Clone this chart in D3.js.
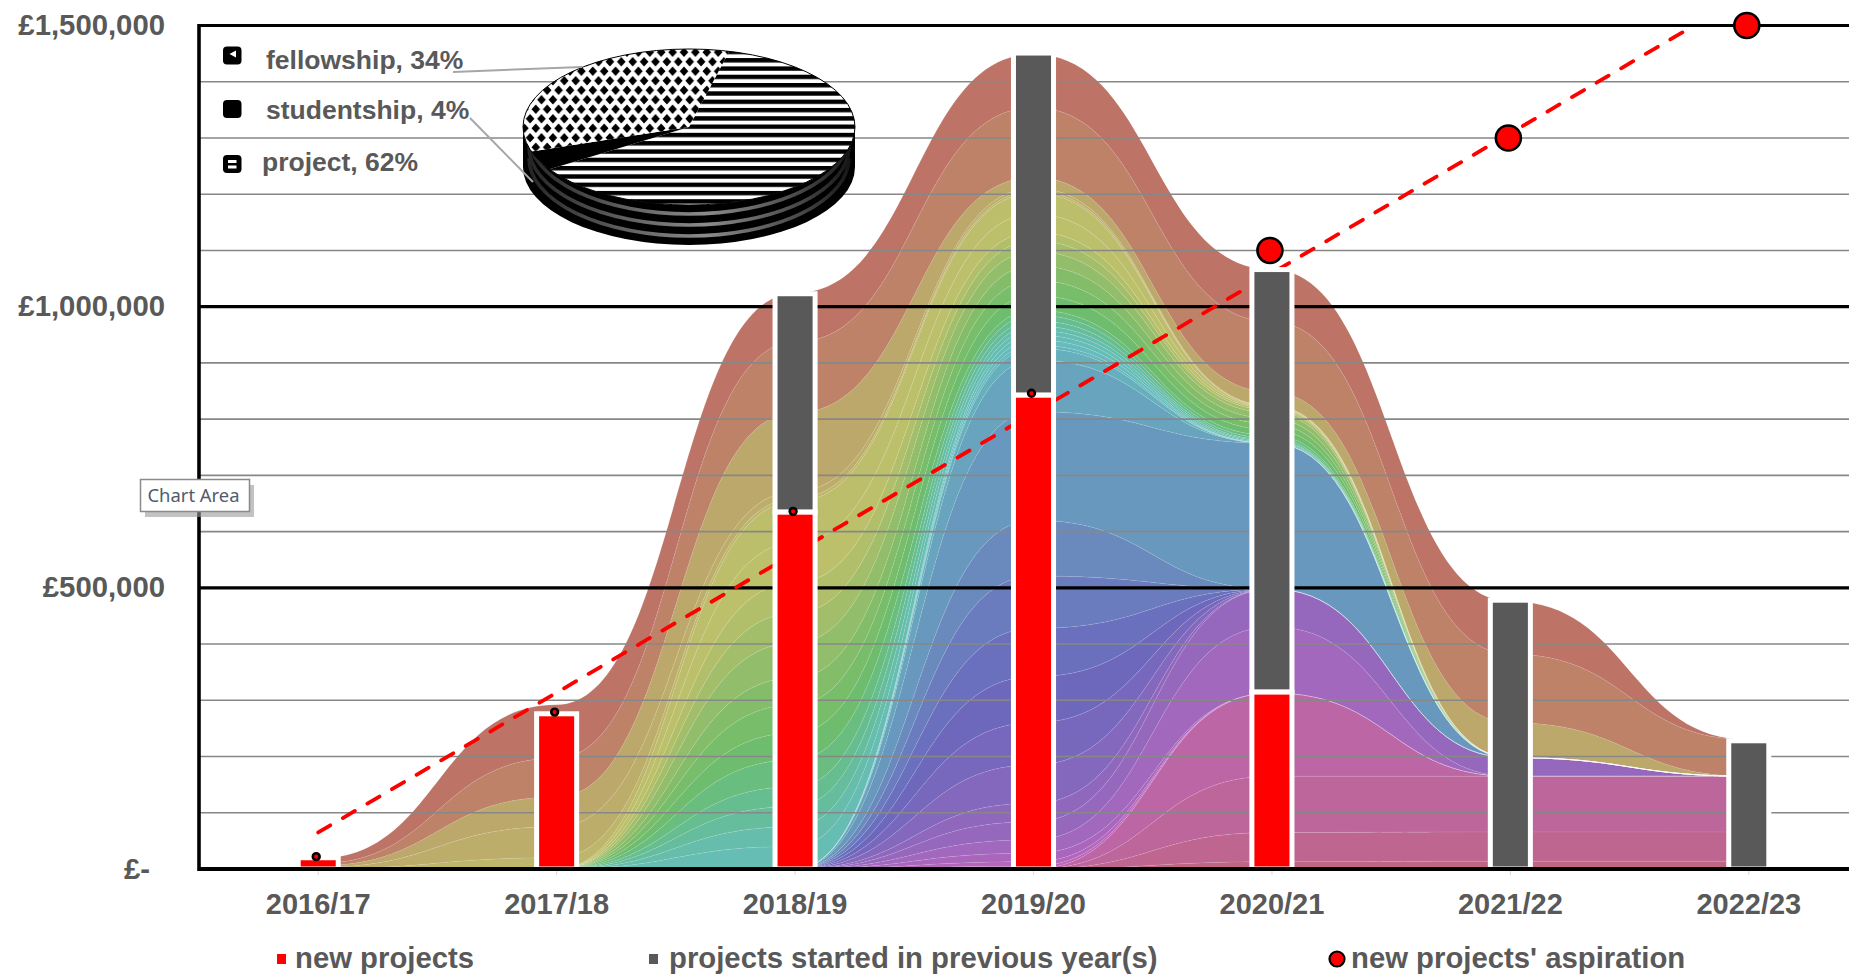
<!DOCTYPE html>
<html>
<head>
<meta charset="utf-8">
<title>Funding by year</title>
<script src="https://cdnjs.cloudflare.com/ajax/libs/d3/7.8.5/d3.min.js"></script>
<style>
  body { margin: 0; background: #fff; }
  text { font-family: "Liberation Sans", Arial, sans-serif; font-weight: bold; fill: #595959; }
</style>
</head>
<body>
<svg id="chart" width="1849" height="975"></svg>
<script>
var years = ["2016/17", "2017/18", "2018/19", "2019/20", "2020/21", "2021/22", "2022/23"];
var newProjects = [20000, 276000, 635000, 843000, 315000, 0, 0];
var previousProjects = [0, 0, 388000, 608000, 751000, 478000, 228000];
var aspiration = [22000, 279000, 636000, 846000, 1100000, 1300000, 1500000];
var trendYears = ["2016/17", "2022/23"];
var trendValues = [65000, 1557000];

var pieLabels = ["project", "studentship", "fellowship"];
var pieValues = [62, 4, 34];

// stream layers, bottom to top, one value per year (in £k)
var layers = [
  [0, 0, 0, 0, 13, 14, 14],
  [0, 0, 0, 0, 52, 52, 52],
  [0, 0, 0, 0, 100, 99, 99],
  [0, 0, 0, 0, 148, 0, 0],
  [0, 0, 0, 5, 0, 0, 0],
  [0, 0, 0, 8, 0, 0, 0],
  [0, 0, 0, 15, 0, 0, 0],
  [0, 0, 0, 24, 118, 0, 0],
  [0, 0, 0, 32, 67, 33, 0],
  [0, 0, 0, 33, 0, 0, 0],
  [0, 0, 0, 68, 0, 0, 0],
  [0, 0, 0, 75, 0, 0, 0],
  [0, 0, 0, 82, 0, 0, 0],
  [0, 0, 0, 86, 0, 0, 0],
  [0, 0, 0, 93, 0, 0, 0],
  [0, 0, 0, 99, 0, 0, 0],
  [0, 0, 0, 193, 259, 0, 0],
  [0, 0, 0, 92, 0, 0, 0],
  [0, 0, 0, 21, 0, 0, 0],
  [0, 0, 0, 6, 0, 0, 0],
  [0, 0, 0, 9, 0, 0, 0],
  [0, 0, 0, 9, 0, 0, 0],
  [0, 0, 40, 8, 2, 0, 0],
  [0, 0, 35, 8, 2, 0, 0],
  [0, 0, 36, 9, 2, 0, 0],
  [0, 0, 35, 10, 3, 0, 0],
  [0, 0, 48, 9, 5, 0, 0],
  [0, 0, 48, 26, 10, 0, 0],
  [0, 0, 50, 27, 10, 0, 0],
  [0, 0, 48, 26, 10, 0, 0],
  [0, 0, 62, 25, 10, 0, 0],
  [0, 0, 53, 19, 5, 0, 0],
  [0, 0, 54, 16, 3, 0, 0],
  [0, 0, 71, 32, 2, 0, 0],
  [0, 0, 73, 37, 1, 0, 0],
  [1, 20, 6, 4, 1, 0, 0],
  [2, 55, 12, 5, 1, 0, 0],
  [3, 53, 140, 19, 24, 62, 0],
  [4, 69, 126, 124, 125, 122, 65],
  [9, 95, 87, 95, 93, 94, 0]
];

var layerColors = [
  "#bf6585", "#bf6690", "#bd669c", "#bd66a5", "#bb66b8", "#b366bb", "#aa66bd", "#a268bd",
  "#9568bd", "#8f68bd", "#8468bd", "#7868bd", "#6e68bd", "#6a70bd", "#6a7cbd", "#6a8abd",
  "#6898bd", "#68a4bd", "#66b0bd", "#66b5bd", "#66bbbd", "#66bdb8", "#66bdb3", "#66bdab",
  "#66bd9e", "#66bd90", "#69bd7e", "#6ebd6e", "#78bd6a", "#84bd6a", "#92bd6a", "#a2be6a",
  "#b2bf6a", "#bdc06b", "#bdbe6b", "#bdb66b", "#bdad6b", "#bda86b", "#bd8268", "#bd7366"
];

var svg = d3.select("#chart");
var left = 199, top_ = 25.5, bottom = 869, right = 1868;

var x = d3.scaleBand().domain(years).range([left, right]).paddingInner(0.832).paddingOuter(0.416);
var y = d3.scaleLinear().domain([0, 1500000]).range([bottom, top_]);
function cx(yr) { return x(yr) + x.bandwidth() / 2; }

var defs = svg.append("defs");
defs.append("clipPath").attr("id", "plot")
  .append("rect").attr("x", left).attr("y", top_).attr("width", right - left).attr("height", bottom - top_);

// stream
var stream = d3.stack()
  .keys(d3.range(layers.length))
  .value((d, k) => layers[k][d] * 1000)(d3.range(years.length));

var area = d3.area()
  .x(d => cx(years[d.data]))
  .y0(d => y(d[0]))
  .y1(d => y(d[1]))
  .curve(d3.curveBumpX);
var edge = d3.line()
  .x(d => cx(years[d.data]))
  .y(d => y(d[1]))
  .curve(d3.curveBumpX);

svg.append("g").selectAll("path")
  .data(stream)
  .join("path")
  .attr("d", area)
  .attr("fill", (d, i) => layerColors[i]);
svg.append("g").selectAll("path")
  .data(stream)
  .join("path")
  .attr("d", edge)
  .attr("fill", "none")
  .attr("stroke", "#fff")
  .attr("stroke-opacity", 0.12)
  .attr("stroke-width", 0.9);

// gridlines, minor every 100k, black every 500k
svg.append("g").selectAll("line")
  .data(y.ticks(15))
  .join("line")
  .attr("x1", left)
  .attr("x2", 1849)
  .attr("y1", d => y(d))
  .attr("y2", d => y(d))
  .attr("stroke", d => d % 500000 == 0 ? "#000" : "#878787")
  .attr("stroke-width", d => d % 500000 == 0 ? 3.2 : 1.6);

// trend line goes under the bars
var trend = d3.line().x((d, i) => cx(trendYears[i])).y(d => y(d));
svg.append("path")
  .attr("clip-path", "url(#plot)")
  .attr("d", trend(trendValues))
  .attr("fill", "none")
  .attr("stroke", "#f00")
  .attr("stroke-width", 3.8)
  .attr("stroke-linecap", "round")
  .attr("stroke-dasharray", "14 14.5");

// bars
var barStack = d3.stack().keys([0, 1])
  .value((d, k) => [newProjects, previousProjects][k][d])(d3.range(years.length));

svg.append("g").attr("clip-path", "url(#plot)").selectAll("g")
  .data(barStack)
  .join("g")
  .attr("fill", (d, i) => ["#f00", "#595959"][i])
  .selectAll("rect")
  .data(d => d)
  .join("rect")
  .attr("x", d => x(years[d.data]))
  .attr("width", x.bandwidth())
  .attr("y", d => y(d[1]))
  .attr("height", d => y(d[0]) - y(d[1]))
  .attr("stroke", "#fff")
  .attr("stroke-width", 5);

// axes
var yAxis = d3.axisLeft(y)
  .tickValues([0, 500000, 1000000, 1500000])
  .tickSize(0)
  .tickPadding(34)
  .tickFormat(d => d == 0 ? "£-" : "£" + d3.format(",")(d));
svg.append("g").attr("transform", "translate(" + left + ",0)").call(yAxis)
  .call(g => g.select(".domain").remove())
  .call(g => g.selectAll("text")
    .style("font-size", "29.3px")
    .attr("fill", null)
    .attr("dy", "0.31em")
    .attr("dx", d => d == 0 ? -15 : 0));

var xAxis = d3.axisBottom(x).tickSize(6).tickPadding(18);
svg.append("g").attr("transform", "translate(0," + bottom + ")").call(xAxis)
  .call(g => g.select(".domain").remove())
  .call(g => g.selectAll("line").attr("stroke", "#dedede").attr("stroke-width", 1.2))
  .call(g => g.selectAll("text")
    .style("font-size", "29px")
    .attr("fill", null)
    .attr("dy", "0.72em"));

svg.append("line").attr("x1", left).attr("x2", 1849).attr("y1", bottom).attr("y2", bottom)
  .attr("stroke", "#000").attr("stroke-width", 4);
svg.append("line").attr("x1", left).attr("x2", 1849).attr("y1", top_).attr("y2", top_)
  .attr("stroke", "#000").attr("stroke-width", 3);
svg.append("line").attr("x1", left).attr("x2", left).attr("y1", top_ - 1.5).attr("y2", bottom + 2)
  .attr("stroke", "#000").attr("stroke-width", 3.6);

// aspiration markers
svg.append("g").selectAll("circle")
  .data(aspiration)
  .join("circle")
  .attr("cx", (d, i) => cx(years[i]) - 2)
  .attr("cy", d => y(d))
  .attr("r", (d, i) => i < 4 ? 3.4 : 12.5)
  .attr("fill", "#f00")
  .attr("stroke", "#000")
  .attr("stroke-width", (d, i) => i < 4 ? 2.6 : 2.6);

// pie
var pcx = 689, pcy = 127, prx = 166, pry = 78, depth = 40;

var stripes = defs.append("pattern").attr("id", "stripes").attr("patternUnits", "userSpaceOnUse")
  .attr("width", 8).attr("height", 8.3);
stripes.append("rect").attr("width", 8).attr("height", 8.3).attr("fill", "#fff");
stripes.append("rect").attr("width", 8).attr("height", 4.4).attr("fill", "#000");

var diamonds = defs.append("pattern").attr("id", "diamonds").attr("patternUnits", "userSpaceOnUse")
  .attr("width", 11.4).attr("height", 19);
diamonds.append("rect").attr("width", 11.4).attr("height", 19).attr("fill", "#fff");
diamonds.append("path").attr("d", "M5.7 0L10 4.75L5.7 9.5L1.4 4.75Z M0 9.5L4.3 14.25L0 19L-4.3 14.25Z M11.4 9.5L15.7 14.25L11.4 19L7.1 14.25Z");

var sideGrad = defs.append("linearGradient").attr("id", "side").attr("gradientUnits", "userSpaceOnUse")
  .attr("x1", pcx - prx).attr("x2", pcx + prx).attr("y1", 0).attr("y2", 0);
sideGrad.append("stop").attr("offset", 0).attr("stop-color", "#222");
sideGrad.append("stop").attr("offset", 0.25).attr("stop-color", "#555");
sideGrad.append("stop").attr("offset", 0.55).attr("stop-color", "#8c8c8c");
sideGrad.append("stop").attr("offset", 0.85).attr("stop-color", "#444");
sideGrad.append("stop").attr("offset", 1).attr("stop-color", "#111");

var pieG = svg.append("g");
defs.append("filter").attr("id", "soft").append("feGaussianBlur").attr("stdDeviation", 0.5);
pieG.attr("filter", "url(#soft)");

pieG.append("path")
  .attr("d", "M" + (pcx - prx) + " " + pcy + "A" + prx + " " + pry + " 0 0 0 " + (pcx + prx) + " " + pcy +
    "L" + (pcx + prx) + " " + (pcy + depth) + "A" + prx + " " + pry + " 0 0 1 " + (pcx - prx) + " " + (pcy + depth) + "Z")
  .attr("fill", "#000");
pieG.selectAll("path.band")
  .data([9, 20, 31])
  .join("path")
  .attr("class", "band")
  .attr("d", d => "M" + (pcx - prx + 6) + " " + (pcy + d) + "A" + (prx - 6) + " " + pry + " 0 0 0 " + (pcx + prx - 6) + " " + (pcy + d))
  .attr("fill", "none")
  .attr("stroke", "url(#side)")
  .attr("stroke-width", 3.6);

var slices = d3.pie().sort(null)
  .startAngle(14 * Math.PI / 180)
  .endAngle(374 * Math.PI / 180)(pieValues);
function slicePath(s) {
  var x0 = pcx + prx * Math.sin(s.startAngle), y0 = pcy - pry * Math.cos(s.startAngle);
  var x1 = pcx + prx * Math.sin(s.endAngle), y1 = pcy - pry * Math.cos(s.endAngle);
  var large = s.endAngle - s.startAngle > Math.PI ? 1 : 0;
  return "M" + pcx + " " + pcy + "L" + x0 + " " + y0 + "A" + prx + " " + pry + " 0 " + large + " 1 " + x1 + " " + y1 + "Z";
}
pieG.selectAll("path.slice")
  .data(slices)
  .join("path")
  .attr("class", "slice")
  .attr("d", slicePath)
  .attr("fill", (d, i) => ["url(#stripes)", "#000", "url(#diamonds)"][i]);
pieG.append("ellipse").attr("cx", pcx).attr("cy", pcy).attr("rx", prx).attr("ry", pry)
  .attr("fill", "none").attr("stroke", "#000").attr("stroke-width", 1);

// pie leaders
svg.append("path").attr("d", "M453 72L582 67").attr("fill", "none").attr("stroke", "#a6a6a6").attr("stroke-width", 2);
svg.append("path").attr("d", "M470 118L533 182").attr("fill", "none").attr("stroke", "#a6a6a6").attr("stroke-width", 2);

// pie legend, fellowship first as in the picture
var pieLegendY = [{i: 2, tx: 266, ty: 69, sy: 46.5}, {i: 1, tx: 266, ty: 119, sy: 100}, {i: 0, tx: 262, ty: 171, sy: 155}];
pieLegendY.forEach(function(d) {
  svg.append("rect").attr("x", 223).attr("y", d.sy).attr("width", 18.5).attr("height", 18)
    .attr("rx", 4).attr("fill", "#000");
  svg.append("text").attr("x", d.tx).attr("y", d.ty).style("font-size", "26.5px")
    .text(pieLabels[d.i] + ", " + pieValues[d.i] + "%");
});
svg.append("path").attr("d", "M236 50.5L236 57.5L229.5 54Z").attr("fill", "#fff");
svg.append("rect").attr("x", 228).attr("y", 160).attr("width", 8.5).attr("height", 3).attr("fill", "#fff");
svg.append("rect").attr("x", 228).attr("y", 165.5).attr("width", 8.5).attr("height", 3).attr("fill", "#fff");

// bottom legend
svg.append("rect").attr("x", 277).attr("y", 954).attr("width", 9).attr("height", 10).attr("fill", "#f00");
svg.append("text").attr("x", 295).attr("y", 968).style("font-size", "29.3px").text("new projects");
svg.append("rect").attr("x", 649).attr("y", 954).attr("width", 9).attr("height", 10).attr("fill", "#595959");
svg.append("text").attr("x", 669).attr("y", 968).style("font-size", "29.3px").text("projects started in previous year(s)");
svg.append("circle").attr("cx", 1337).attr("cy", 959).attr("r", 7.5).attr("fill", "#f00").attr("stroke", "#000").attr("stroke-width", 2.2);
svg.append("text").attr("x", 1351).attr("y", 968).style("font-size", "29.3px").text("new projects' aspiration");

// hover tooltip that was caught in the screenshot
svg.append("rect").attr("x", 145).attr("y", 485).attr("width", 109).attr("height", 32).attr("fill", "#999").attr("fill-opacity", 0.6);
svg.append("rect").attr("x", 140.5).attr("y", 479.5).attr("width", 109).attr("height", 32).attr("fill", "#fff").attr("stroke", "#8a8a8a").attr("stroke-width", 1.5);
svg.append("text").attr("x", 147.5).attr("y", 502).style("font-family", "'Noto Sans', sans-serif").style("font-weight", "normal")
  .style("font-size", "18.4px").style("fill", "#505c6e").text("Chart Area");
</script>
</body>
</html>
